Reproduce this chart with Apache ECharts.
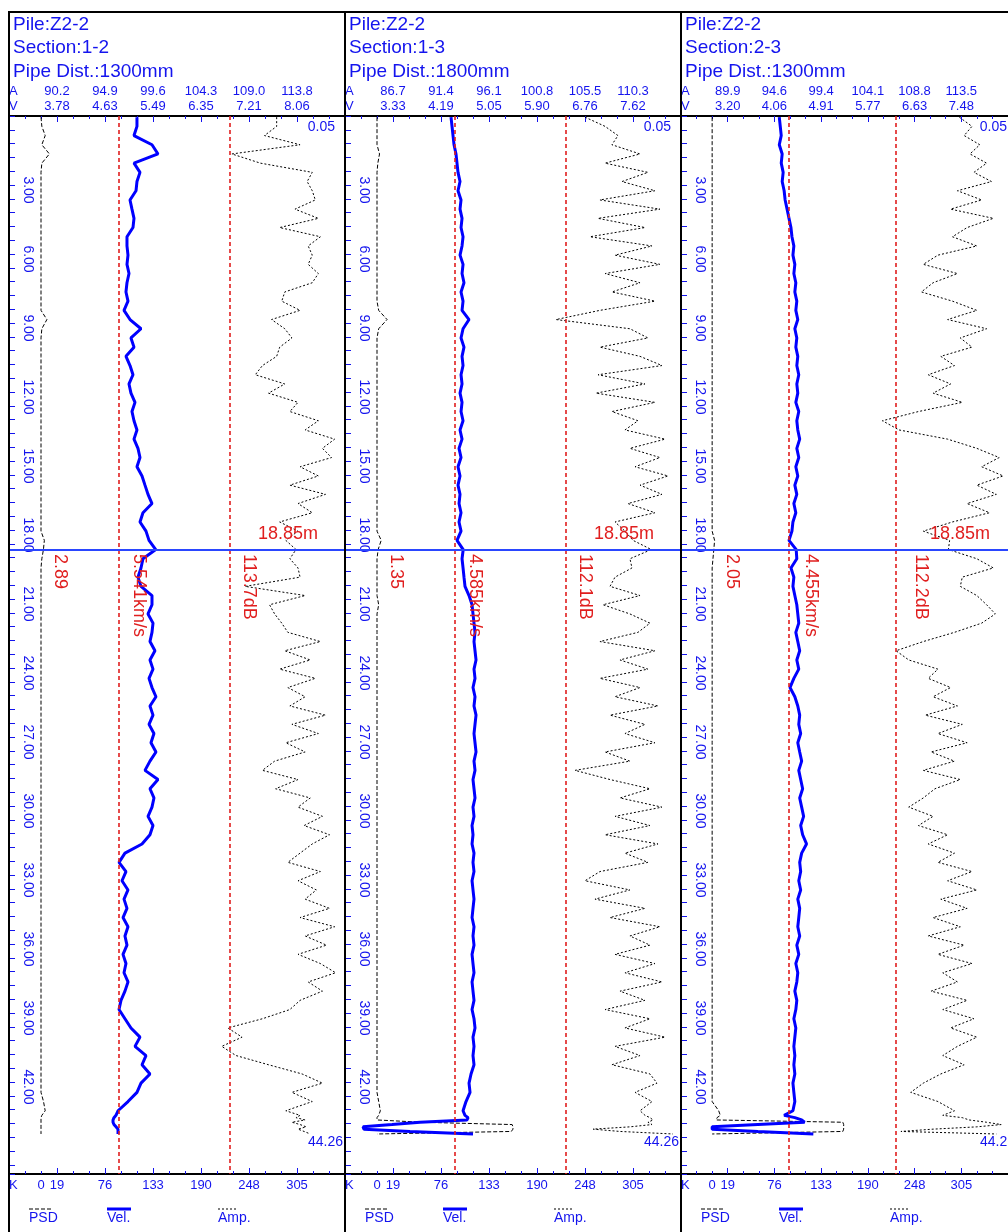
<!DOCTYPE html>
<html>
<head>
<meta charset="utf-8">
<title>Pile Z2-2 cross-hole sonic logs</title>
<script src="https://cdn.jsdelivr.net/npm/echarts@6/dist/echarts.min.js"></script>
<style>
  html, body { margin: 0; padding: 0; background: #ffffff; }
  #chart { width: 1008px; height: 1232px; }
</style>
</head>
<body>
<div id="chart"></div>
<script>
// ---- Measured data ---------------------------------------------------------
// Sampling depths (m), shared by all three sections
const depthM = [
  0.05, 0.45, 0.85, 1.25, 1.65, 2.05, 2.45, 2.85, 3.25, 3.65,
  4.05, 4.45, 4.85, 5.25, 5.65, 6.05, 6.45, 6.85, 7.25, 7.65,
  8.05, 8.45, 8.85, 9.25, 9.65, 10.05, 10.45, 10.85, 11.25, 11.65,
  12.05, 12.45, 12.85, 13.25, 13.65, 14.05, 14.45, 14.85, 15.25, 15.65,
  16.05, 16.45, 16.85, 17.25, 17.65, 18.05, 18.45, 18.85, 19.25, 19.65,
  20.05, 20.45, 20.85, 21.25, 21.65, 22.05, 22.45, 22.85, 23.25, 23.65,
  24.05, 24.45, 24.85, 25.25, 25.65, 26.05, 26.45, 26.85, 27.25, 27.65,
  28.05, 28.45, 28.85, 29.25, 29.65, 30.05, 30.45, 30.85, 31.25, 31.65,
  32.05, 32.45, 32.85, 33.25, 33.65, 34.05, 34.45, 34.85, 35.25, 35.65,
  36.05, 36.45, 36.85, 37.25, 37.65, 38.05, 38.45, 38.85, 39.25, 39.65,
  40.05, 40.45, 40.85, 41.25, 41.65, 42.05, 42.45, 42.85, 43.25,
  43.45, 43.55, 43.65, 43.75, 43.85, 43.95, 44.05, 44.15, 44.26
];

const pileName = 'Z2-2';
const sectionNames = ['1-2', '1-3', '2-3'];
const pipeDistMm = [1300, 1800, 1300];
const cursorDepth = 18.85;

// Scale labels (bottom K scale, top amplitude dB and velocity km/s)
const kTicks = [0, 19, 76, 133, 190, 248, 305];
const ampTicks1 = [90.2, 94.9, 99.6, 104.3, 109.0, 113.8];
const velTicks1 = [3.78, 4.63, 5.49, 6.35, 7.21, 8.06];
const ampTicks2 = [86.7, 91.4, 96.1, 100.8, 105.5, 110.3];
const velTicks2 = [3.33, 4.19, 5.05, 5.90, 6.76, 7.62];
const ampTicks3 = [89.9, 94.6, 99.4, 104.1, 108.8, 113.5];
const velTicks3 = [3.20, 4.06, 4.91, 5.77, 6.63, 7.48];

// Critical values (dashed red lines)
const critVel = [4.886, 4.438, 4.306];
const critAmp = [107.2, 103.7, 106.9];

// Section 1-2
const psd1 = [
  0, 1, 5, 1, 10, 1, 0, 0, 0, 0,
  0, 0, 0, 0, 0, 0, 0, 0, 0, 0,
  0, 0, 7, 1, 0, 0, 0, 0, 0, 0,
  0, 0, 0, 0, 0, 0, 0, 0, 0, 0,
  0, 0, 0, 0, 0, 0, 4, 2.89, 1, 0,
  0, 0, 0, 0, 0, 0, 0, 0, 0, 0,
  0, 0, 0, 0, 0, 0, 0, 0, 0, 0,
  0, 0, 0, 0, 0, 0, 0, 0, 0, 0,
  0, 0, 0, 0, 0, 0, 0, 0, 0, 0,
  0, 0, 0, 0, 0, 0, 0, 0, 0, 0,
  0, 0, 0, 0, 0, 0, 0, 3, 5,
  1, 0, 0, 0, 0, 0, 0, 0, 0
];
const vel1 = [
  5.206, 5.206, 5.153, 5.474, 5.581, 5.153, 5.260, 5.206, 5.189, 5.082,
  5.117, 5.153, 5.135, 5.028, 5.028, 5.046, 5.028, 5.064, 5.028, 5.010,
  5.046, 4.975, 5.082, 5.278, 5.099, 5.153, 5.010, 5.082, 5.135, 5.064,
  5.099, 5.171, 5.117, 5.153, 5.206, 5.153, 5.224, 5.260, 5.206, 5.296,
  5.349, 5.403, 5.474, 5.313, 5.260, 5.367, 5.421, 5.541, 5.313, 5.278,
  5.224, 5.278, 5.474, 5.474, 5.403, 5.492, 5.474, 5.438, 5.527, 5.438,
  5.492, 5.421, 5.474, 5.545, 5.438, 5.492, 5.421, 5.509, 5.456, 5.545,
  5.438, 5.349, 5.581, 5.438, 5.509, 5.474, 5.403, 5.492, 5.438, 5.296,
  4.992, 4.886, 5.010, 4.939, 5.046, 4.975, 5.028, 4.957, 5.046, 4.992,
  5.028, 4.957, 5.010, 4.975, 5.046, 4.992, 4.921, 4.886, 4.992, 5.099,
  5.260, 5.171, 5.367, 5.296, 5.438, 5.278, 5.206, 5.046, 4.868,
  4.832, 4.796, 4.779, 4.779, 4.796, 4.832, 4.868, 4.868, 4.868
];
const amp1 = [
  111.8, 111.8, 110.6, 114.1, 107.4, 110.2, 115.3, 114.8, 115.3, 115.6,
  113.6, 115.9, 112.1, 116.1, 114.9, 115.3, 114.9, 115.9, 115.3, 112.6,
  112.3, 114.1, 111.3, 112.6, 113.3, 112.1, 111.8, 110.4, 109.7, 112.6,
  111.0, 113.9, 113.1, 115.9, 114.6, 117.5, 116.3, 117.2, 114.1, 115.9,
  113.1, 116.6, 113.9, 115.3, 112.1, 113.9, 112.7, 113.7, 113.1, 113.9,
  114.1, 108.7, 114.6, 111.1, 111.6, 112.3, 112.9, 116.1, 112.6, 115.1,
  112.1, 115.6, 112.9, 114.6, 113.1, 116.6, 113.3, 115.9, 112.7, 114.6,
  111.6, 110.4, 113.9, 111.7, 115.1, 113.9, 116.3, 114.5, 117.0, 115.3,
  114.1, 112.9, 116.1, 113.9, 115.7, 114.6, 117.0, 114.1, 117.5, 114.6,
  116.7, 113.9, 116.1, 117.6, 114.9, 116.3, 114.1, 113.1, 110.4, 107.0,
  108.4, 106.4, 107.8, 111.0, 114.3, 116.3, 113.3, 115.3, 112.7,
  114.1, 113.7, 114.6, 113.3, 114.1, 114.7, 113.9, 114.5, 115.1
];

// Section 1-3
const psd2 = [
  0, 0, 0, 0, 3, 1, 0, 0, 0, 0,
  0, 0, 0, 0, 0, 0, 0, 0, 0, 0,
  0, 2, 12, 2, 0, 0, 0, 0, 0, 0,
  0, 0, 0, 0, 0, 0, 0, 0, 0, 0,
  0, 0, 0, 0, 0, 0, 5, 1.35, 0, 0,
  0, 0, 0, 2, 0, 0, 0, 0, 0, 0,
  0, 0, 0, 0, 0, 0, 0, 0, 0, 0,
  0, 0, 0, 0, 0, 0, 0, 0, 0, 0,
  0, 0, 0, 0, 0, 0, 0, 0, 0, 0,
  0, 0, 0, 0, 0, 0, 0, 0, 0, 0,
  0, 0, 0, 0, 0, 0, 0, 2, 4,
  2, 0, 0, 53, 161, 162, 162, 160, 0
];
const vel2 = [
  4.367, 4.385, 4.403, 4.421, 4.456, 4.474, 4.492, 4.528, 4.492, 4.546,
  4.528, 4.564, 4.546, 4.582, 4.564, 4.528, 4.582, 4.564, 4.599, 4.546,
  4.582, 4.564, 4.689, 4.582, 4.546, 4.599, 4.564, 4.582, 4.546, 4.564,
  4.528, 4.564, 4.546, 4.582, 4.528, 4.564, 4.510, 4.546, 4.492, 4.528,
  4.492, 4.528, 4.510, 4.546, 4.510, 4.546, 4.474, 4.585, 4.564, 4.582,
  4.599, 4.617, 4.689, 4.743, 4.760, 4.778, 4.796, 4.778, 4.796, 4.814,
  4.778, 4.796, 4.760, 4.796, 4.778, 4.814, 4.796, 4.778, 4.796, 4.814,
  4.778, 4.796, 4.760, 4.778, 4.796, 4.760, 4.778, 4.743, 4.760, 4.743,
  4.778, 4.760, 4.778, 4.743, 4.760, 4.778, 4.760, 4.743, 4.778, 4.760,
  4.778, 4.743, 4.760, 4.778, 4.743, 4.760, 4.778, 4.743, 4.778, 4.796,
  4.760, 4.778, 4.760, 4.778, 4.725, 4.689, 4.707, 4.635, 4.582,
  4.617, 4.671, 4.653, 3.813, 3.312, 2.794, 2.811, 3.634, 4.760
];
const amp2 = [
  105.58, 107.55, 108.82, 108.23, 110.99, 107.55, 111.77, 109.22, 112.46, 107.05,
  112.95, 106.86, 111.48, 106.07, 112.17, 108.53, 112.95, 107.55, 110.99, 108.23,
  112.46, 107.05, 102.73, 110.00, 111.77, 107.05, 110.99, 113.15, 106.86, 111.48,
  106.66, 112.46, 108.23, 110.79, 109.51, 113.45, 110.00, 112.95, 110.50, 113.74,
  110.99, 113.15, 109.81, 112.46, 108.53, 109.51, 110.30, 112.1, 110.00, 110.20,
  108.53, 108.04, 110.99, 107.35, 110.00, 111.97, 110.79, 107.05, 112.46, 109.02,
  111.77, 107.05, 110.99, 108.53, 112.76, 108.04, 111.48, 109.51, 112.46, 107.55,
  110.00, 104.60, 108.04, 111.97, 109.02, 113.15, 108.53, 111.97, 107.55, 112.76,
  109.51, 111.77, 107.05, 105.58, 110.00, 106.56, 111.48, 108.04, 112.95, 110.00,
  111.97, 108.53, 112.46, 109.51, 113.15, 109.02, 111.48, 107.55, 111.97, 109.51,
  113.45, 108.53, 110.99, 108.23, 111.97, 112.66, 110.50, 112.17, 110.99,
  111.48, 111.97, 112.27, 111.77, 112.17, 110.00, 106.37, 109.02, 114.23
];

// Section 2-3
const psd3 = [
  0, 0, 0, 0, 0, 0, 0, 0, 0, 0,
  0, 0, 0, 0, 0, 0, 0, 0, 0, 0,
  0, 0, 0, 0, 0, 0, 0, 0, 0, 0,
  0, 0, 0, 0, 0, 0, 0, 0, 0, 0,
  0, 0, 0, 0, 0, 0, 3, 2.05, 1, 0,
  0, 0, 0, 0, 0, 0, 0, 0, 0, 0,
  0, 0, 0, 0, 0, 0, 0, 0, 0, 0,
  0, 0, 0, 0, 0, 0, 0, 0, 0, 0,
  0, 0, 0, 0, 0, 0, 0, 0, 0, 0,
  0, 0, 0, 0, 0, 0, 0, 0, 0, 0,
  0, 0, 0, 0, 0, 0, 0, 0, 8,
  10, 6, 5, 160, 161, 161, 161, 160, 0
];
const vel3 = [
  4.145, 4.163, 4.181, 4.145, 4.198, 4.181, 4.216, 4.198, 4.234, 4.252,
  4.288, 4.323, 4.359, 4.377, 4.412, 4.395, 4.430, 4.412, 4.448, 4.430,
  4.466, 4.448, 4.484, 4.430, 4.466, 4.448, 4.484, 4.466, 4.502, 4.466,
  4.484, 4.448, 4.502, 4.466, 4.484, 4.519, 4.466, 4.502, 4.448, 4.484,
  4.430, 4.466, 4.412, 4.448, 4.395, 4.377, 4.323, 4.455, 4.466, 4.359,
  4.412, 4.395, 4.430, 4.466, 4.484, 4.502, 4.448, 4.484, 4.519, 4.466,
  4.502, 4.412, 4.341, 4.430, 4.484, 4.519, 4.502, 4.537, 4.484, 4.519,
  4.555, 4.502, 4.537, 4.573, 4.519, 4.555, 4.591, 4.537, 4.573, 4.644,
  4.555, 4.519, 4.537, 4.502, 4.537, 4.484, 4.519, 4.502, 4.484, 4.519,
  4.466, 4.502, 4.448, 4.484, 4.466, 4.430, 4.466, 4.448, 4.412, 4.448,
  4.430, 4.412, 4.430, 4.412, 4.430, 4.395, 4.412, 4.430, 4.395,
  4.234, 4.430, 4.555, 4.609, 3.753, 2.915, 2.915, 3.753, 4.769
];
const amp3 = [
  113.30, 114.58, 113.79, 115.37, 114.38, 116.06, 114.78, 116.55, 113.11, 115.56,
  112.42, 116.74, 114.09, 112.61, 115.07, 111.14, 109.66, 113.11, 110.65, 109.47,
  112.61, 115.07, 112.12, 116.06, 113.40, 114.58, 111.43, 112.81, 110.16, 112.42,
  110.65, 113.60, 109.17, 105.53, 107.21, 112.12, 115.07, 117.33, 115.56, 117.73,
  115.07, 117.04, 114.09, 116.35, 112.61, 109.66, 112.32, 112.2, 115.07, 116.74,
  113.60, 113.40, 115.07, 116.06, 116.94, 115.56, 112.81, 109.66, 106.91, 108.19,
  111.14, 110.16, 112.42, 110.65, 113.11, 109.86, 113.60, 111.14, 114.09, 110.45,
  112.81, 109.66, 113.40, 110.84, 109.66, 108.19, 110.65, 109.17, 112.12, 110.16,
  112.81, 111.14, 114.58, 112.12, 115.07, 111.43, 114.09, 110.65, 113.40, 110.16,
  113.79, 111.14, 114.58, 111.63, 113.11, 110.45, 114.09, 111.63, 114.78, 112.42,
  115.07, 113.11, 111.63, 113.79, 111.43, 109.66, 108.39, 111.14, 112.81,
  111.63, 113.60, 114.29, 116.06, 117.53, 115.07, 110.65, 107.40, 117.04
];

// ---- Layout and styling ----------------------------------------------------
const FONT = '"Liberation Sans", Arial, sans-serif';
const BLUE = '#1414ee';
const LINE_BLUE = '#0000ff';
const CURSOR_BLUE = '#2a46ff';
const RED = '#e01e1e';
const INK = '#000000';

const GRID_LEFT = [9, 345, 681];
const PANEL_W = 336;
const TOP = 116;
const PLOT_H = 1058;
const N_STEPS = 21;                       // tick divisions across a panel
const K_IDX = [2, 3, 6, 9, 12, 15, 18];   // divisions that carry K labels
const AV_IDX = [3, 6, 9, 12, 15, 18];     // divisions that carry A / V labels

const sections = [
  { psd: psd1, vel: vel1, amp: amp1, ampTicks: ampTicks1, velTicks: velTicks1 },
  { psd: psd2, vel: vel2, amp: amp2, ampTicks: ampTicks2, velTicks: velTicks2 },
  { psd: psd3, vel: vel3, amp: amp3, ampTicks: ampTicks3, velTicks: velTicks3 }
];

// Value range of a scale whose labelled divisions are given by idx
function spanFrom(ticks, idx) {
  const n = ticks.length - 1;
  const step = (ticks[n] - ticks[0]) / (idx[n] - idx[0]);
  const min = ticks[0] - idx[0] * step;
  return { min: min, max: min + N_STEPS * step };
}

function kLabel(v) {
  const i = Math.round(v);
  if (i === 0) return 'K';
  const j = K_IDX.indexOf(i);
  return j >= 0 ? String(kTicks[j]) : '';
}

const cursorIdx = depthM.indexOf(cursorDepth);

const grids = [], xAxes = [], yAxes = [], series = [], elements = [];

// outer frame
elements.push({ type: 'line', silent: true, z: 100,
  shape: { x1: 8, y1: 12, x2: 1008, y2: 12 }, style: { stroke: '#000', lineWidth: 2 } });

sections.forEach(function (s, i) {
  const left = GRID_LEFT[i];
  grids.push({ left: left, top: TOP, width: PANEL_W, height: PLOT_H, show: false });
  const base = xAxes.length;

  const kSpan = spanFrom(kTicks, K_IDX);
  const vSpan = spanFrom(s.velTicks, AV_IDX);
  const aSpan = spanFrom(s.ampTicks, AV_IDX);

  const tickStyle = {
    axisTick: { show: true, inside: true, length: 6, lineStyle: { color: BLUE, width: 1 } },
    minorTick: { show: true, splitNumber: 3, length: 3, lineStyle: { color: BLUE, width: 1 } },
    splitLine: { show: false }, minorSplitLine: { show: false }
  };

  // bottom K scale
  xAxes.push(Object.assign({
    id: 'k' + i, gridIndex: i, type: 'value', position: 'bottom',
    min: 0, max: N_STEPS, interval: 3,
    axisLine: { show: true, onZero: false, lineStyle: { color: '#000', width: 2 } },
    axisLabel: {
      show: true, customValues: [0].concat(K_IDX), alignMinLabel: 'left',
      margin: 5, color: BLUE, fontSize: 13, fontFamily: FONT,
      formatter: kLabel
    }
  }, tickStyle));

  // top amplitude / velocity scale (two label rows)
  xAxes.push(Object.assign({
    id: 'av' + i, gridIndex: i, type: 'value', position: 'top',
    min: 0, max: N_STEPS, interval: 3,
    axisLine: { show: true, onZero: false, lineStyle: { color: '#000', width: 2 } },
    axisLabel: {
      show: true, customValues: [0].concat(AV_IDX), alignMinLabel: 'left',
      margin: 2, color: BLUE, fontSize: 13, lineHeight: 15, fontFamily: FONT,
      formatter: function (v) {
        const n = Math.round(v);
        if (n === 0) return 'A\nV';
        const j = AV_IDX.indexOf(n);
        return j >= 0 ? s.ampTicks[j].toFixed(1) + '\n' + s.velTicks[j].toFixed(2) : '';
      }
    }
  }, tickStyle));

  // value axes that the three logs are drawn against
  xAxes.push({ id: 'psd' + i, gridIndex: i, type: 'value', show: false, min: kSpan.min, max: kSpan.max });
  xAxes.push({ id: 'vel' + i, gridIndex: i, type: 'value', show: false, min: vSpan.min, max: vSpan.max });
  xAxes.push({ id: 'amp' + i, gridIndex: i, type: 'value', show: false, min: aSpan.min, max: aSpan.max });

  // depth axis
  yAxes.push({
    id: 'depth' + i, gridIndex: i, type: 'value', inverse: true, position: 'left',
    min: 0, max: 46, interval: 3,
    axisLine: { show: true, onZero: false, lineStyle: { color: '#000', width: 2 } },
    axisTick: { show: true, inside: true, length: 6, lineStyle: { color: BLUE, width: 1 } },
    minorTick: { show: true, splitNumber: 5, length: 6, lineStyle: { color: BLUE, width: 1 } },
    splitLine: { show: false }, minorSplitLine: { show: false },
    axisLabel: {
      inside: true, rotate: -90, margin: 12, padding: [0, 0, 0, 10],
      color: BLUE, fontSize: 14, fontFamily: FONT,
      formatter: function (v) { return (v > 0 && v < 44.5) ? v.toFixed(2) : ''; }
    }
  });

  const pts = function (vals) { return depthM.map(function (d, j) { return [vals[j], d]; }); };

  series.push({
    name: 'PSD', type: 'line', xAxisIndex: base + 2, yAxisIndex: i,
    data: pts(s.psd), symbol: 'none', silent: true, z: 3,
    lineStyle: { color: INK, width: 1, type: [4, 2] }
  });
  series.push({
    name: 'Amp.', type: 'line', xAxisIndex: base + 4, yAxisIndex: i,
    data: pts(s.amp), symbol: 'none', silent: true, z: 3,
    lineStyle: { color: INK, width: 1, type: [2, 2] },
    markLine: {
      silent: true, symbol: 'none', label: { show: false }, animation: false,
      lineStyle: { color: RED, width: 1.6, type: [4, 3] },
      data: [{ xAxis: critAmp[i] }]
    }
  });
  series.push({
    name: 'Vel.', type: 'line', xAxisIndex: base + 3, yAxisIndex: i,
    data: pts(s.vel), symbol: 'none', silent: true, z: 4,
    lineStyle: { color: LINE_BLUE, width: 3 },
    markLine: {
      silent: true, symbol: 'none', label: { show: false }, animation: false,
      data: [
        { xAxis: critVel[i], lineStyle: { color: RED, width: 1.6, type: [4, 3] } },
        { yAxis: cursorDepth, lineStyle: { color: CURSOR_BLUE, width: 2, type: 'solid' } }
      ]
    }
  });

  // panel divider
  elements.push({ type: 'line', silent: true, z: 100,
    shape: { x1: left, y1: 12, x2: left, y2: 1232 }, style: { stroke: '#000', lineWidth: 2 } });

  // header
  const hdr = ['Pile:' + pileName, 'Section:' + sectionNames[i], 'Pipe Dist.:' + pipeDistMm[i] + 'mm'];
  [25, 48, 72].forEach(function (y, r) {
    elements.push({ type: 'text', x: left + 4, y: y, silent: true, z: 100,
      style: { text: hdr[r], fill: BLUE, font: '19px ' + FONT,
        textAlign: 'left', align: 'left', textVerticalAlign: 'middle', verticalAlign: 'middle' } });
  });

  // depth range of the log
  elements.push({ type: 'text', x: left + 326, y: 127, silent: true, z: 100,
    style: { text: depthM[0].toFixed(2), fill: BLUE, font: '14px ' + FONT,
      textAlign: 'right', align: 'right', textVerticalAlign: 'middle', verticalAlign: 'middle' } });
  elements.push({ type: 'text', x: left + 334, y: 1142, silent: true, z: 100,
    style: { text: depthM[depthM.length - 1].toFixed(2), fill: BLUE, font: '14px ' + FONT,
      textAlign: 'right', align: 'right', textVerticalAlign: 'middle', verticalAlign: 'middle' } });

  // cursor read-outs
  elements.push({ type: 'text', x: left + 249, y: 534, silent: true, z: 110,
    style: { text: cursorDepth.toFixed(2) + 'm', fill: RED, font: '18px ' + FONT,
      textAlign: 'left', align: 'left', textVerticalAlign: 'middle', verticalAlign: 'middle' } });
  const readouts = [
    [50.5, s.psd[cursorIdx].toFixed(2)],
    [129.5, s.vel[cursorIdx].toFixed(3) + 'km/s'],
    [239.5, s.amp[cursorIdx].toFixed(1) + 'dB']
  ];
  readouts.forEach(function (r) {
    elements.push({ type: 'text', x: left + r[0], y: 554, rotation: -Math.PI / 2, silent: true, z: 110,
      style: { text: r[1], fill: RED, font: '18px ' + FONT,
        textAlign: 'left', align: 'left', textVerticalAlign: 'middle', verticalAlign: 'middle' } });
  });

  // line-style key
  const key = [
    { text: 'PSD', x: 20, w: 23, style: { stroke: INK, lineWidth: 1, lineDash: [4, 2] } },
    { text: 'Vel.', x: 98, w: 24, style: { stroke: LINE_BLUE, lineWidth: 3 } },
    { text: 'Amp.', x: 209, w: 20, style: { stroke: INK, lineWidth: 1, lineDash: [2, 2] } }
  ];
  key.forEach(function (k) {
    elements.push({ type: 'line', silent: true, z: 100,
      shape: { x1: left + k.x, y1: 1209, x2: left + k.x + k.w, y2: 1209 }, style: k.style });
    elements.push({ type: 'text', x: left + k.x, y: 1218, silent: true, z: 100,
      style: { text: k.text, fill: BLUE, font: '14px ' + FONT,
        textAlign: 'left', align: 'left', textVerticalAlign: 'middle', verticalAlign: 'middle' } });
  });
});

const chart = echarts.init(document.getElementById('chart'), null, { renderer: 'canvas', width: 1008, height: 1232 });
chart.setOption({
  backgroundColor: '#ffffff',
  animation: false,
  grid: grids,
  xAxis: xAxes,
  yAxis: yAxes,
  series: series,
  graphic: { elements: elements }
});
</script>
</body>
</html>
